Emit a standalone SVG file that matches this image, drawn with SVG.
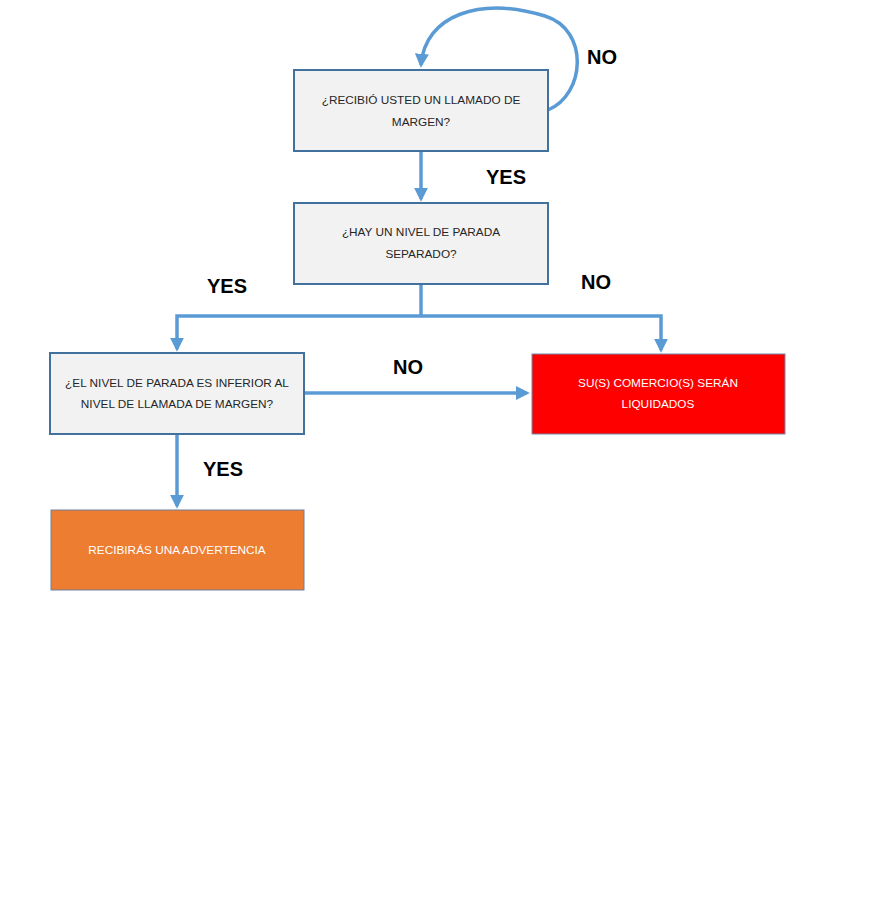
<svg xmlns="http://www.w3.org/2000/svg" width="886" height="918" viewBox="0 0 886 918">
<style>
.q{fill:#F2F2F2;stroke:#41719C;stroke-width:2}
.t{font-family:"Liberation Sans",Arial,sans-serif;font-size:11.8px;fill:#262626;text-anchor:middle}
.w{fill:#FFFFFF}
.lbl{font-family:"Liberation Sans",Arial,sans-serif;font-size:20px;font-weight:bold;fill:#000}
.c{fill:none;stroke:#5B9BD5;stroke-width:3.5}
</style>
<defs>
<marker id="ah" viewBox="0 0 10 10" refX="8" refY="5" markerWidth="4" markerHeight="4" orient="auto" markerUnits="strokeWidth">
<path d="M0,0 L10,5 L0,10 z" fill="#5B9BD5"/>
</marker>
</defs>
<rect width="886" height="918" fill="#FFFFFF"/>
<g id="connectors">
<path class="c" d="M548,110 C585,95 590,30 545,16 C480,-4 425,15 421,65" marker-end="url(#ah)"/>
<path class="c" d="M421,151 L421,199" marker-end="url(#ah)"/>
<path class="c" d="M421,284 L421,316"/>
<path class="c" d="M421,316 L177,316 L177,349" marker-end="url(#ah)"/>
<path class="c" d="M421,316 L661,316 L661,350" marker-end="url(#ah)"/>
<path class="c" d="M304,393 L527,393" marker-end="url(#ah)"/>
<path class="c" d="M177,434 L177,506" marker-end="url(#ah)"/>
</g>
<g id="labels">
<text class="lbl" x="587" y="64">NO</text>
<text class="lbl" x="486" y="184">YES</text>
<text class="lbl" x="207" y="293">YES</text>
<text class="lbl" x="581" y="289">NO</text>
<text class="lbl" x="393" y="374">NO</text>
<text class="lbl" x="203" y="476">YES</text>
</g>
<g id="node-margin-call">
<rect class="q" x="294" y="70" width="254" height="81"/>
<text class="t" x="421" y="104">¿RECIBIÓ USTED UN LLAMADO DE</text>
<text class="t" x="421" y="126">MARGEN?</text>
</g>
<g id="node-stop-level">
<rect class="q" x="294" y="203" width="254" height="81"/>
<text class="t" x="421" y="236">¿HAY UN NIVEL DE PARADA</text>
<text class="t" x="421" y="258">SEPARADO?</text>
</g>
<g id="node-stop-lower">
<rect class="q" x="50" y="353" width="254" height="81"/>
<text class="t" x="177" y="387">¿EL NIVEL DE PARADA ES INFERIOR AL</text>
<text class="t" x="177" y="408">NIVEL DE LLAMADA DE MARGEN?</text>
</g>
<g id="node-liquidated">
<rect x="532" y="354" width="253" height="80" fill="#FF0000" stroke="#6F8AAE" stroke-width="1"/>
<text class="t w" x="658" y="387">SU(S) COMERCIO(S) SERÁN</text>
<text class="t w" x="658" y="408">LIQUIDADOS</text>
</g>
<g id="node-warning">
<rect x="51" y="510" width="253" height="80" fill="#ED7D31" stroke="#6F7FA0" stroke-width="1"/>
<text class="t w" x="177" y="554">RECIBIRÁS UNA ADVERTENCIA</text>
</g>
</svg>
